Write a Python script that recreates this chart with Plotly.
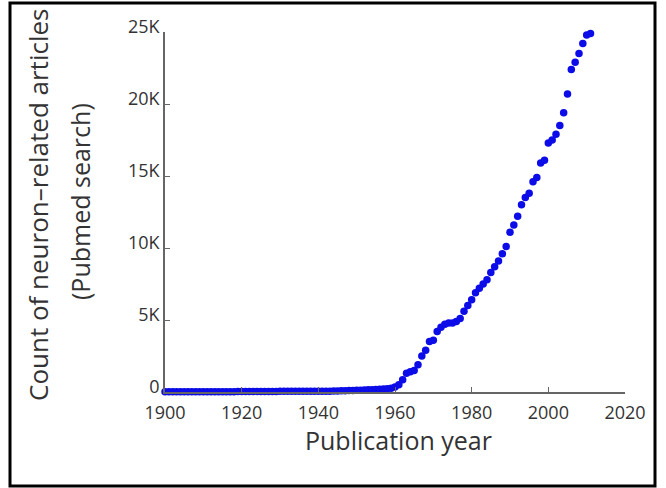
import plotly.graph_objects as go

years = list(range(1900, 2012))
counts_1900_1959 = [10, 12, 12, 14, 15, 15, 16, 18, 18, 20, 20, 22, 22, 24, 25, 24, 22, 22, 25, 28,
                    30, 30, 32, 34, 35, 36, 38, 40, 40, 42, 44, 45, 46, 48, 50, 52, 54, 55, 56, 58,
                    55, 52, 50, 55, 62, 70, 80, 90, 100, 110, 120, 130, 140, 150, 160, 170, 185, 200, 220, 260]
counts_1960_2011 = [350, 500, 850, 1300, 1400, 1500, 1900, 2500, 2900, 3500,
                    3600, 4200, 4500, 4700, 4800, 4800, 4900, 5100, 5600, 6000,
                    6400, 6900, 7200, 7500, 7800, 8300, 8700, 9100, 9600, 10100,
                    11100, 11600, 12200, 13000, 13500, 13800, 14600, 14900, 15900, 16100,
                    17300, 17500, 17900, 18500, 19400, 20700, 22400, 22900, 23500, 24200,
                    24800, 24900]
counts = counts_1900_1959 + counts_1960_2011

x_ticks = [1900, 1920, 1940, 1960, 1980, 2000, 2020]
y_ticks = [0, 5000, 10000, 15000, 20000, 25000]
y_tick_labels = ["0", "5K", "10K", "15K", "20K", "25K"]

y_title_line1 = "Count of neuron\u2013related articles"
y_title_line2 = "(Pubmed search)"
x_title = "Publication year"

FONT = "Open Sans"
TXT = "#333333"
AX = "#666666"

fig = go.Figure()
fig.add_trace(go.Scatter(
    x=years, y=counts, mode="markers",
    marker=dict(color="#0c0ce8", size=7.5, line=dict(width=0)),
    cliponaxis=False, showlegend=False,
))

fig.update_layout(
    width=666, height=488,
    margin=dict(l=165, r=41, t=32, b=96),
    paper_bgcolor="white", plot_bgcolor="white",
    font=dict(family=FONT, color=TXT),
    xaxis=dict(range=[1900, 2020], tickvals=x_ticks, ticks="inside", ticklen=5,
               tickcolor=AX, showline=True, linecolor=AX, linewidth=1.5, ticklabelstandoff=4,
               showgrid=False, zeroline=False, tickfont=dict(size=18, color=TXT, family=FONT)),
    yaxis=dict(range=[0, 25000], tickvals=y_ticks, ticktext=y_tick_labels, ticks="inside",
               ticklen=5, tickcolor=AX, showline=True, linecolor=AX, linewidth=1.5,
               ticklabelshift=-5,
               showgrid=False, zeroline=False, tickfont=dict(size=18, color=TXT, family=FONT)),
    annotations=[
        dict(text=y_title_line1, xref="paper", yref="paper",
             x=(38 - 165) / 460, y=(392 - 205) / 360, xanchor="center", yanchor="middle",
             textangle=-90, showarrow=False, font=dict(size=26, color=TXT, family=FONT)),
        dict(text=y_title_line2, xref="paper", yref="paper",
             x=(80 - 165) / 460, y=(392 - 202) / 360, xanchor="center", yanchor="middle",
             textangle=-90, showarrow=False, font=dict(size=25, color=TXT, family=FONT)),
        dict(text=x_title, xref="paper", yref="paper", x=(398 - 165) / 460, y=(392 - 440) / 360,
             xanchor="center", yanchor="middle", showarrow=False,
             font=dict(size=25, color=TXT, family=FONT)),
    ],
    shapes=[dict(type="rect", xref="paper", yref="paper",
                 x0=(10 - 165) / 460, x1=(655 - 165) / 460,
                 y0=(392 - 486) / 360, y1=(392 - 3) / 360,
                 line=dict(color="black", width=3), fillcolor="rgba(0,0,0,0)", layer="above")],
)

fig.write_html("out.html", config={"displayModeBar": False},
               post_script="document.body.style.margin='0';")
